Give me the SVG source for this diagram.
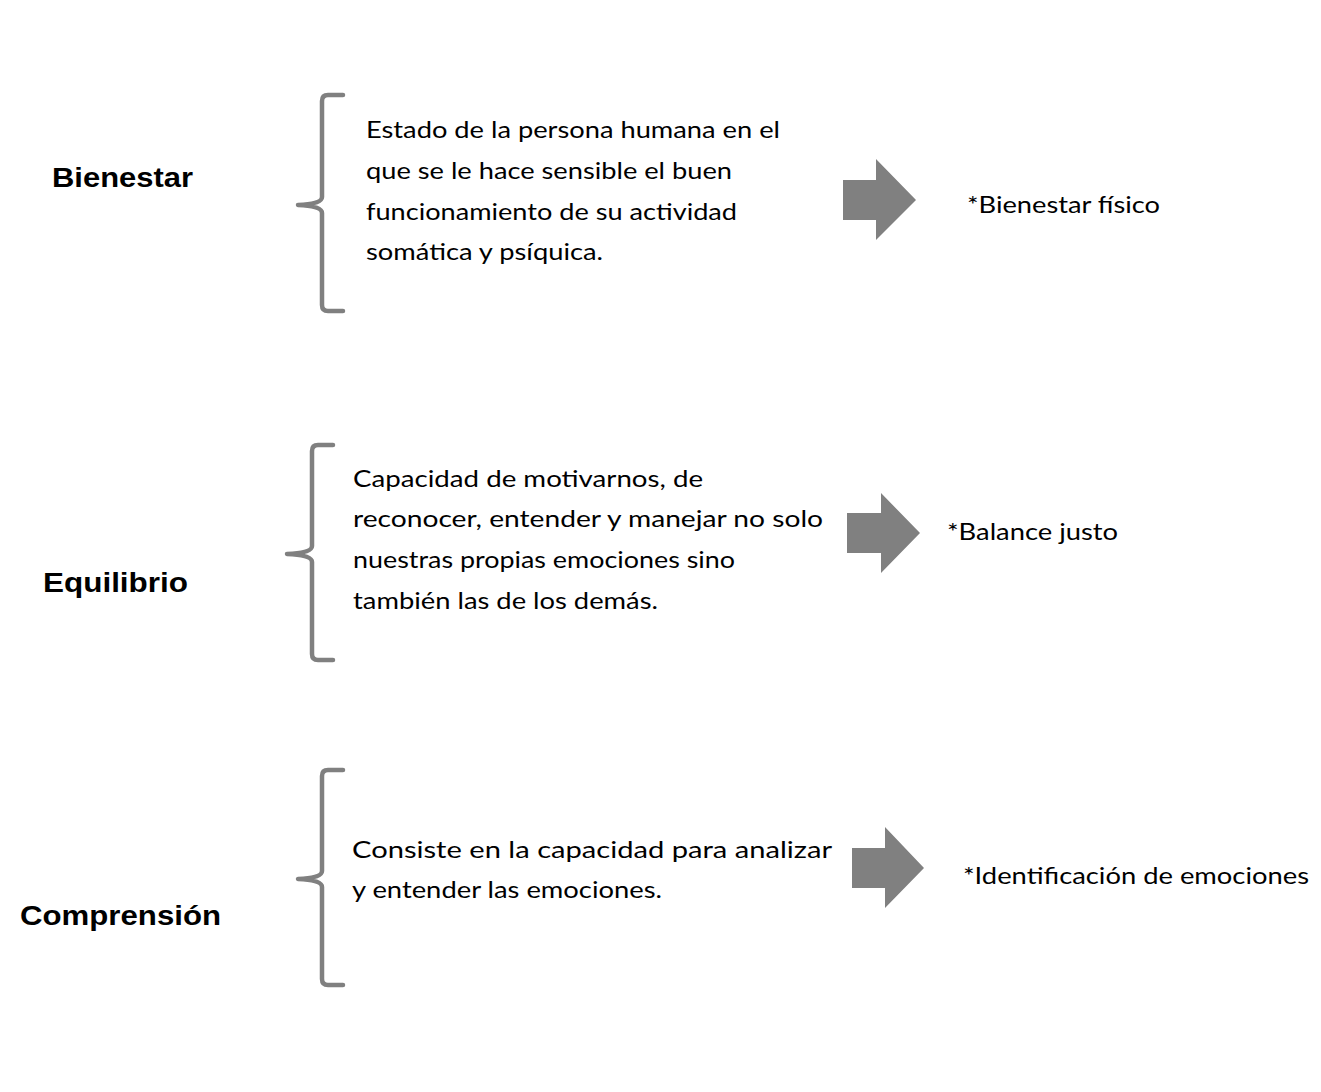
<svg xmlns="http://www.w3.org/2000/svg" width="1321" height="1092" viewBox="0 0 1321 1092">
<style>
.lbl{font-family:"Liberation Sans",Arial,sans-serif;font-weight:bold;font-size:28px;fill:#000}
.txt{font-family:Lato,"Open Sans",sans-serif;font-size:22.5px;fill:#000}
.br{fill:none;stroke:#808080;stroke-width:4.5;stroke-linecap:round;stroke-linejoin:round}
.ar{fill:#808080}
</style>
<rect width="1321" height="1092" fill="#fff"/>
<g id="node-bienestar">
<text class="lbl" x="52" y="187" textLength="141" lengthAdjust="spacingAndGlyphs">Bienestar</text>
</g>
<g id="node-bienestar-def">
<path class="br" d="M343,95 H328 Q322,95 322,101 V197 Q322,204 298,205 Q322,206 322,213 V305 Q322,311 328,311 H343"/>
<text class="txt" x="366" y="138" textLength="414" lengthAdjust="spacingAndGlyphs">Estado de la persona humana en el</text>
<text class="txt" x="366" y="179" textLength="366" lengthAdjust="spacingAndGlyphs">que se le hace sensible el buen</text>
<text class="txt" x="366" y="220" textLength="371" lengthAdjust="spacingAndGlyphs">funcionamiento de su actividad</text>
<text class="txt" x="366" y="260" textLength="237" lengthAdjust="spacingAndGlyphs">somática y psíquica.</text>
</g>
<g id="node-bienestar-result">
<text class="txt" x="967" y="213" textLength="193" lengthAdjust="spacingAndGlyphs">*Bienestar físico</text>
</g>
<g id="node-equilibrio">
<text class="lbl" x="43" y="592" textLength="145" lengthAdjust="spacingAndGlyphs">Equilibrio</text>
</g>
<g id="node-equilibrio-def">
<path class="br" d="M333,445 H318 Q312,445 312,451 V546 Q312,553 287,554 Q312,555 312,562 V654 Q312,660 318,660 H333"/>
<text class="txt" x="353" y="487" textLength="350" lengthAdjust="spacingAndGlyphs">Capacidad de motivarnos, de</text>
<text class="txt" x="353" y="527" textLength="470" lengthAdjust="spacingAndGlyphs">reconocer, entender y manejar no solo</text>
<text class="txt" x="353" y="568" textLength="382" lengthAdjust="spacingAndGlyphs">nuestras propias emociones sino</text>
<text class="txt" x="353" y="609" textLength="305" lengthAdjust="spacingAndGlyphs">también las de los demás.</text>
</g>
<g id="node-equilibrio-result">
<text class="txt" x="947" y="540" textLength="171" lengthAdjust="spacingAndGlyphs">*Balance justo</text>
</g>
<g id="node-comprension">
<text class="lbl" x="20" y="925" textLength="201" lengthAdjust="spacingAndGlyphs">Comprensión</text>
</g>
<g id="node-comprension-def">
<path class="br" d="M343,770 H328 Q322,770 322,776 V871 Q322,878 298,879 Q322,880 322,887 V979 Q322,985 328,985 H343"/>
<text class="txt" x="352" y="858" textLength="480" lengthAdjust="spacingAndGlyphs">Consiste en la capacidad para analizar</text>
<text class="txt" x="352" y="898" textLength="310" lengthAdjust="spacingAndGlyphs">y entender las emociones.</text>
</g>
<g id="node-comprension-result">
<text class="txt" x="963" y="884" textLength="346" lengthAdjust="spacingAndGlyphs">*Identificación de emociones</text>
</g>
<g id="connectors">
<polygon class="ar" points="843,180 876,180 876,159 916,200 876,240 876,220 843,220"/>
<polygon class="ar" points="847,513 881,513 881,493 920,533 881,573 881,553 847,553"/>
<polygon class="ar" points="852,848 885,848 885,827 924,868 885,908 885,888 852,888"/>
</g>
</svg>
